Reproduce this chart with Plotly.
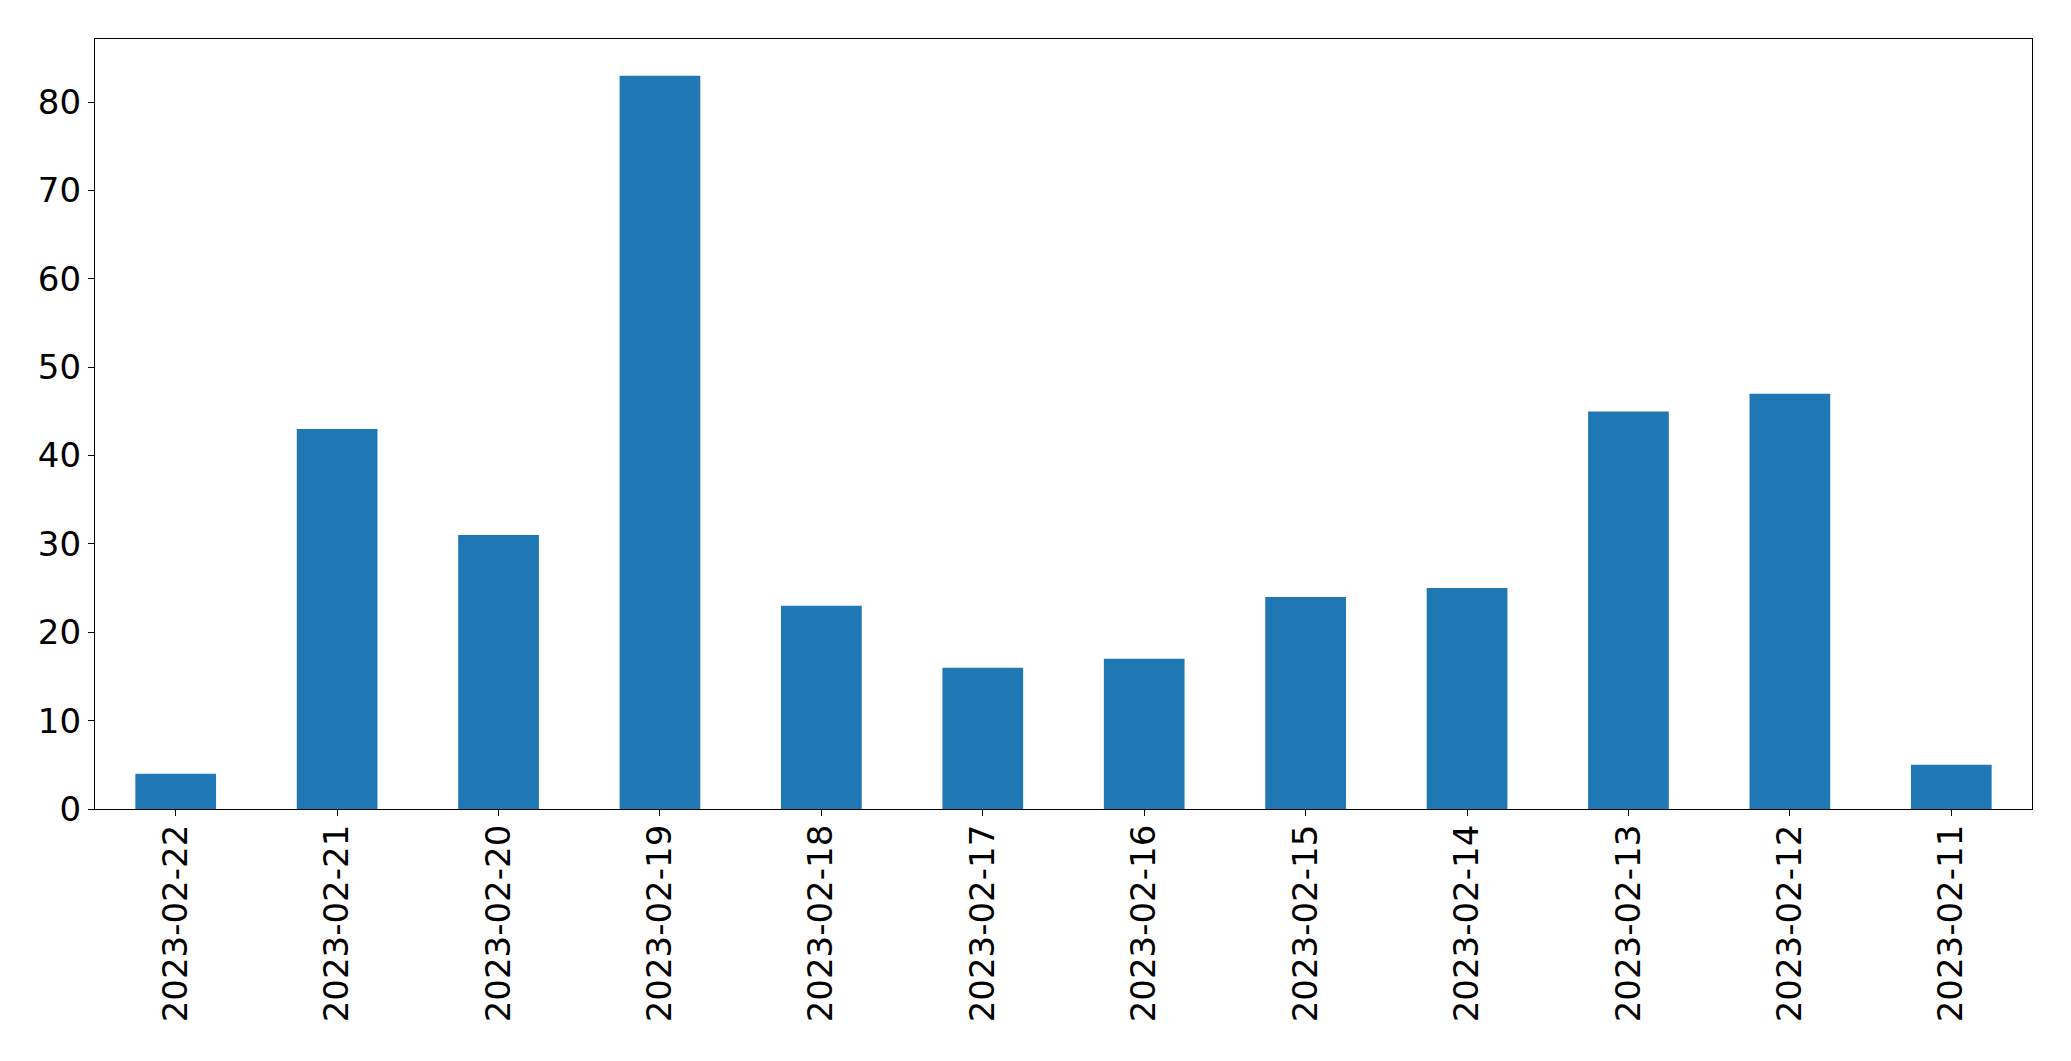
import plotly.graph_objects as go

dates = ["2023-02-22", "2023-02-21", "2023-02-20", "2023-02-19", "2023-02-18", "2023-02-17",
         "2023-02-16", "2023-02-15", "2023-02-14", "2023-02-13", "2023-02-12", "2023-02-11"]
counts = [4, 43, 31, 83, 23, 16, 17, 24, 25, 45, 47, 5]

fig = go.Figure(go.Bar(x=dates, y=counts, marker_color="#1f77b4", marker_line_width=0, width=0.5))

axis_common = dict(showline=True, linecolor="black", linewidth=1.3, mirror=True, ticks="outside",
                   ticklen=6, tickwidth=1.3, tickcolor="black", showgrid=False, zeroline=False,
                   tickfont=dict(family="DejaVu Sans", size=34, color="black"))

fig.update_layout(
    width=2071, height=1061,
    margin=dict(l=87, r=47, t=31, b=260),
    paper_bgcolor="white", plot_bgcolor="white",
    showlegend=False,
    xaxis=dict(type="category", range=[-0.5, 11.5], tickangle=-90, ticklabelstandoff=-5, **axis_common),
    yaxis=dict(range=[0, 87.15], tickvals=[0, 10, 20, 30, 40, 50, 60, 70, 80], **axis_common),
)

fig.write_html("out.html")
